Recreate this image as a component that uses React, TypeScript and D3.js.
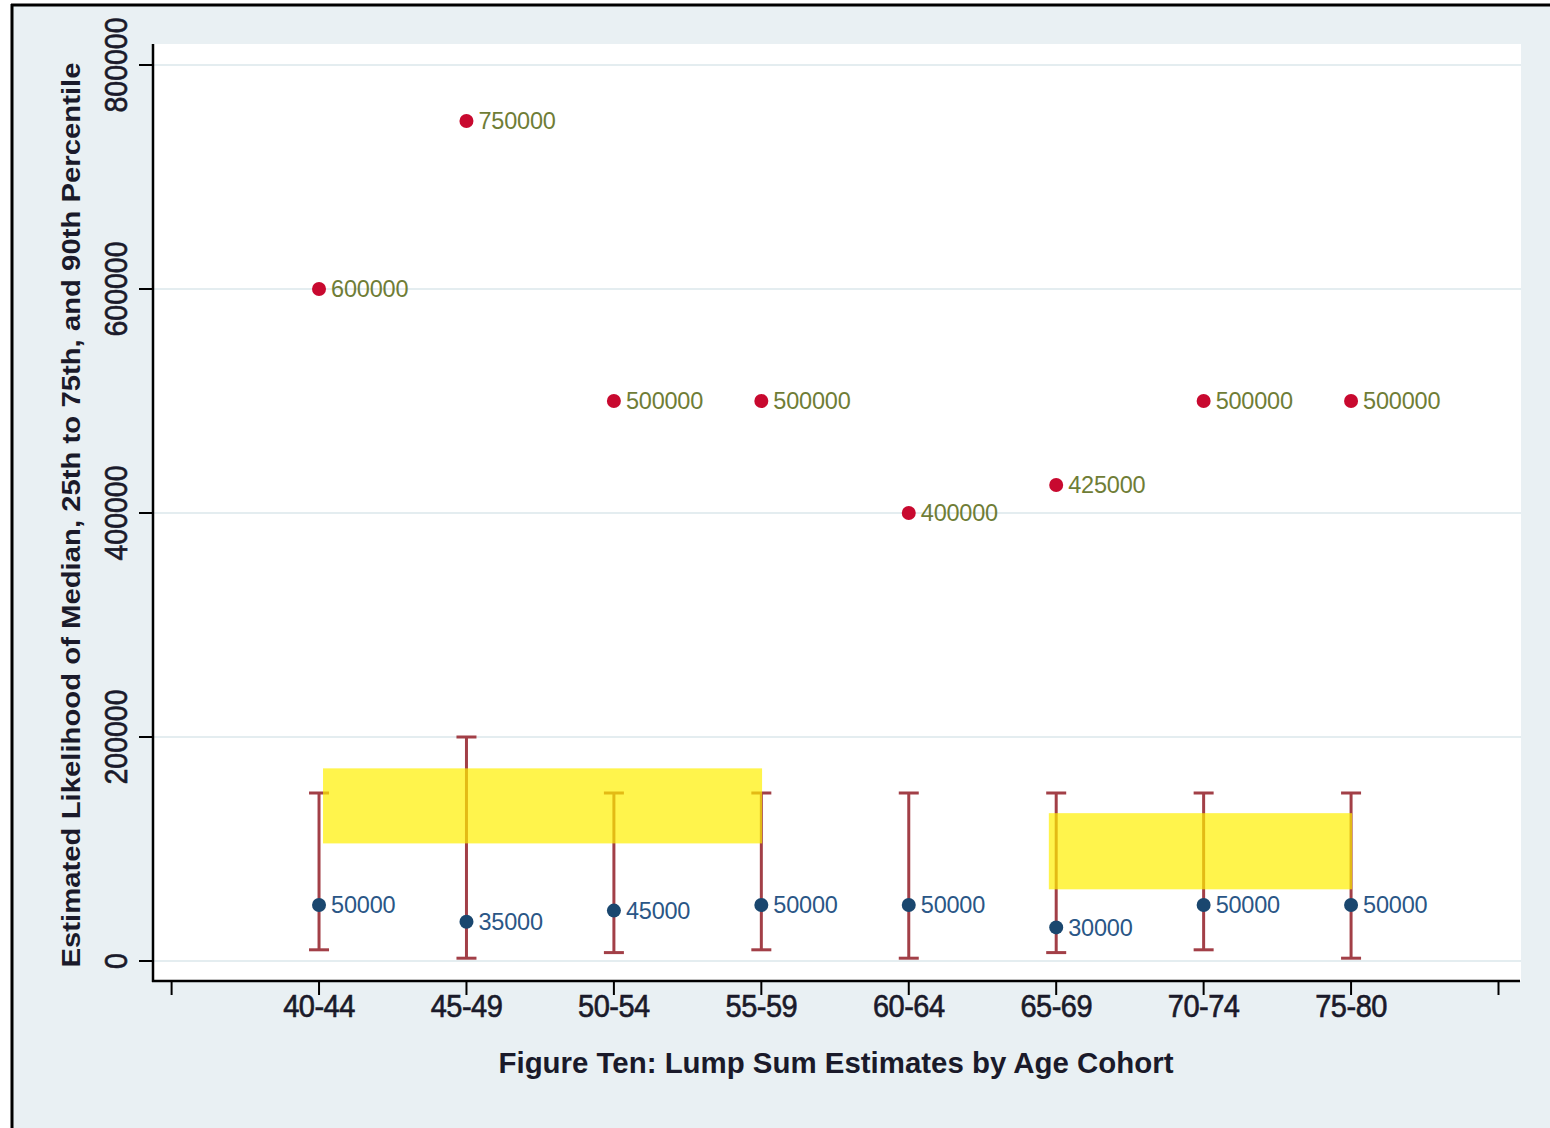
import React from "react";
import * as d3 from "d3";

const categories = ["40-44", "45-49", "50-54", "55-59", "60-64", "65-69", "70-74", "75-80"];
const medianValues = [50000, 35000, 45000, 50000, 50000, 30000, 50000, 50000];
const p90Values = [600000, 750000, 500000, 500000, 400000, 425000, 500000, 500000];
const p25Values = [10000, 2500, 7500, 10000, 2500, 7500, 10000, 2500];
const p75Values = [150000, 200000, 150000, 150000, 150000, 150000, 150000, 150000];
const yTicks = [0, 200000, 400000, 600000, 800000];
const xTickIdx = [-1, 0, 1, 2, 3, 4, 5, 6, 7, 8];
// highlight bands: [x index start, x index end, y low, y high]
const highlightBands = [
  [0.027, 3.005, 105000, 172000],
  [4.95, 7.007, 64000, 132000],
];

const W = 1550;
const H = 1128;

export default function App() {
  const x = d3.scaleLinear().domain([-1, 8]).range([171.6, 1498.5]);
  const y = d3.scaleLinear().domain([0, 800000]).range([961, 65]);
  const left = 153;
  const right = 1521;
  const top = 44;
  const axisY = 981;

  const bg = "#e9f0f3";
  const barColor = "#a23f47";
  const redMarker = "#c8092f";
  const blueMarker = "#1a476f";
  const redLabel = "#6f7d36";
  const blueLabel = "#2a5686";
  const font = "'Liberation Sans', Arial, sans-serif";

  return (
    <svg
      width={W}
      height={H}
      style={{ position: "absolute", left: 0, top: 0, display: "block" }}
      fontFamily={font}
    >
      <rect x={0} y={0} width={W} height={H} fill="#ffffff" />
      <rect x={12} y={5} width={W - 12} height={H - 5} fill={bg} />
      {/* outer frame */}
      <line x1={11} y1={5} x2={W} y2={5} stroke="#000" strokeWidth={3} />
      <line x1={12} y1={4} x2={12} y2={H} stroke="#000" strokeWidth={3} />

      {/* plot region */}
      <rect x={left} y={top} width={right - left} height={axisY - top} fill="#ffffff" />

      {/* gridlines */}
      {yTicks.map((t) => (
        <line key={"g" + t} x1={left} x2={right} y1={y(t)} y2={y(t)} stroke="#e4edf0" strokeWidth={2} />
      ))}

      {/* error bars */}
      {categories.map((c, i) => (
        <g key={"eb" + c} stroke={barColor} strokeWidth={3}>
          <line x1={x(i)} x2={x(i)} y1={y(p25Values[i])} y2={y(p75Values[i])} />
          <line x1={x(i) - 10} x2={x(i) + 10} y1={y(p25Values[i])} y2={y(p25Values[i])} />
          <line x1={x(i) - 10} x2={x(i) + 10} y1={y(p75Values[i])} y2={y(p75Values[i])} />
        </g>
      ))}

      {/* median markers */}
      {categories.map((c, i) => (
        <g key={"md" + c}>
          <circle cx={x(i)} cy={y(medianValues[i])} r={7} fill={blueMarker} />
          <text
            x={x(i) + 12}
            y={y(medianValues[i])}
            dy="0.36em"
            fontSize={23.5}
            fill={blueLabel}
            letterSpacing={-0.2}
          >
            {medianValues[i]}
          </text>
        </g>
      ))}

      {/* 90th percentile markers */}
      {categories.map((c, i) => (
        <g key={"p9" + c}>
          <circle cx={x(i)} cy={y(p90Values[i])} r={7} fill={redMarker} />
          <text
            x={x(i) + 12}
            y={y(p90Values[i])}
            dy="0.36em"
            fontSize={23.5}
            fill={redLabel}
            letterSpacing={-0.2}
          >
            {p90Values[i]}
          </text>
        </g>
      ))}

      {/* highlight overlays */}
      {highlightBands.map((b, k) => (
        <rect
          key={"hl" + k}
          x={x(b[0])}
          y={y(b[3])}
          width={x(b[1]) - x(b[0])}
          height={y(b[2]) - y(b[3])}
          fill="#ffef00"
          fillOpacity={0.7}
        />
      ))}

      {/* y axis */}
      <line x1={left} x2={left} y1={top} y2={axisY + 1} stroke="#000" strokeWidth={2.5} />
      {yTicks.map((t) => (
        <g key={"yt" + t}>
          <line x1={139} x2={left} y1={y(t)} y2={y(t)} stroke="#000" strokeWidth={2} />
          <text
            transform={`translate(127,${y(t)}) rotate(-90) scale(1,1.1)`}
            textAnchor="middle"
            fontSize={28.5}
            fill="#1a1a2a"
            stroke="#1a1a2a"
            strokeWidth={0.6}
          >
            {t}
          </text>
        </g>
      ))}
      <text
        transform={`translate(80,${(968 + 62) / 2}) rotate(-90) scale(1,1.05)`}
        textAnchor="middle"
        fontSize={25}
        fontWeight="bold"
        fill="#1a1a2a"
        textLength={905}
        lengthAdjust="spacingAndGlyphs"
      >
        Estimated Likelihood of Median, 25th to 75th, and 90th Percentile
      </text>

      {/* x axis */}
      <line x1={left - 1} x2={right - 1} y1={axisY} y2={axisY} stroke="#000" strokeWidth={2.5} />
      {xTickIdx.map((t) => (
        <line key={"xt" + t} x1={x(t)} x2={x(t)} y1={axisY} y2={995} stroke="#000" strokeWidth={2} />
      ))}
      {categories.map((c, i) => (
        <text
          key={"xl" + c}
          transform={`translate(${x(i)},1017) scale(1,1.05)`}
          textAnchor="middle"
          fontSize={29}
          fill="#1a1a2a"
          stroke="#1a1a2a"
          strokeWidth={0.6}
          letterSpacing={-0.5}
        >
          {c}
        </text>
      ))}
      <text
        x={836}
        y={1073}
        textAnchor="middle"
        fontSize={29}
        fontWeight="bold"
        fill="#1a1a2a"
        textLength={675}
        lengthAdjust="spacingAndGlyphs"
      >
        Figure Ten: Lump Sum Estimates by Age Cohort
      </text>
    </svg>
  );
}
